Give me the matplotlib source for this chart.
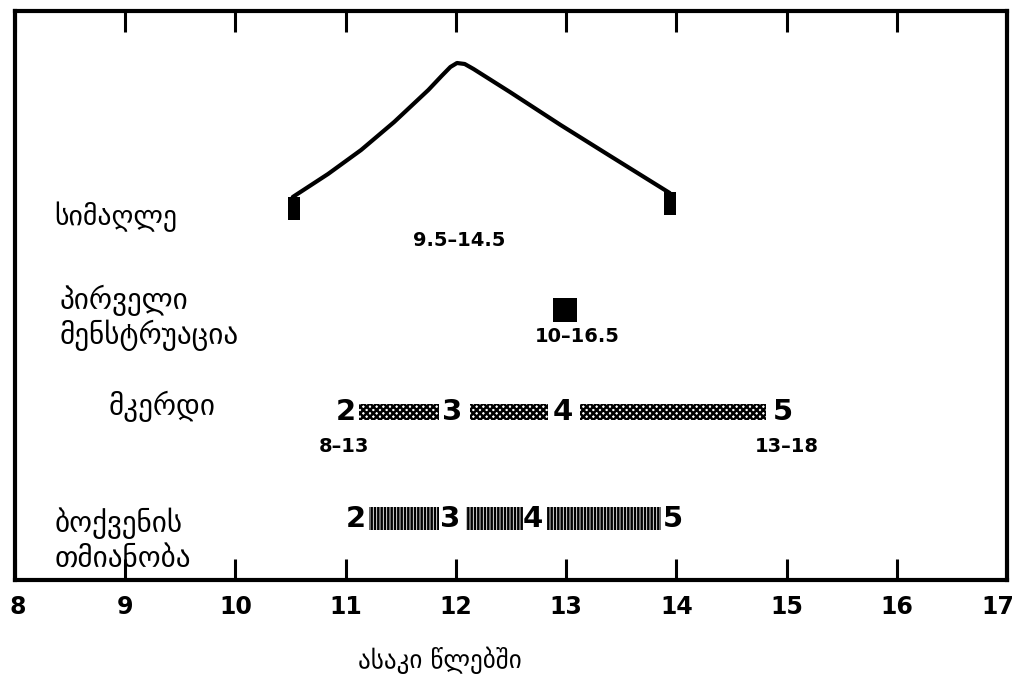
import matplotlib
matplotlib.use("Agg")
import matplotlib.pyplot as plt
import matplotlib.transforms as mtrans

plt.rcParams['font.family'] = ['DejaVu Sans']
plt.rcParams['hatch.linewidth'] = 1.8

# ---- data ----
xticks = [8, 9, 10, 11, 12, 13, 14, 15, 16, 17]
row_labels = ["სიმაღლე", "პირველი\nმენსტრუაცია", "მკერდი", "ბოქვენის\nთმიანობა"]
xlabel = "ასაკი წლებში"

# height spurt curve (age, relative level)
height_x = [10.52, 10.84, 11.14, 11.44, 11.75, 11.87, 11.95, 12.01, 12.08, 12.16, 12.49, 12.95, 13.40, 13.94]
height_y = [383, 406, 430, 458, 490, 504, 513, 517, 516, 511, 488, 455, 424, 387]
height_ends_x = [10.53, 13.94]
height_range = "9.5–14.5"

menarche_age = 12.99
menarche_range = "10–16.5"

breast_stage_labels = ["2", "3", "4", "5"]
breast_stage_ages = [11.0, 11.97, 12.97, 14.97]
breast_bar_start = [11.12, 12.13, 13.13]
breast_bar_end = [11.85, 12.84, 14.81]
breast_range = ["8–13", "13–18"]

pubic_stage_labels = ["2", "3", "4", "5"]
pubic_stage_ages = [11.09, 11.95, 12.70, 13.97]
pubic_bar_start = [11.21, 12.09, 12.83]
pubic_bar_end = [11.85, 12.61, 13.86]

# ---- figure ----
fig = plt.figure(figsize=(10.17, 6.75), dpi=100)
W, H = 1017, 675
ax = fig.add_axes([15 / W, 1 - 580 / H, (1007 - 15) / W, (580 - 11) / H])
ax.set_xlim(8, 17)
ax.set_ylim(0, 569)

for s in ax.spines.values():
    s.set_linewidth(3)
ax.set_xticks(xticks)
ax.set_xticklabels([str(t) for t in xticks], fontsize=17, fontweight='bold')
ax.tick_params(axis='x', direction='in', length=15, width=2.2, top=True, bottom=True, pad=11)
ax.set_yticks([])
labs = ax.get_xticklabels()
labs[0].set_transform(labs[0].get_transform() + mtrans.ScaledTranslation(3 / 100, 0, fig.dpi_scale_trans))
labs[-1].set_transform(labs[-1].get_transform() + mtrans.ScaledTranslation(-9 / 100, 0, fig.dpi_scale_trans))

fig.text(440 / W, 1 - 660 / H, xlabel, ha='center', va='center', fontsize=18)

# height curve
ax.plot(height_x, height_y, color='black', lw=3, solid_capstyle='round', solid_joinstyle='round')
ax.bar(height_ends_x, 23, bottom=[360, 365], width=0.11, color='black')
ax.text(12.03, 340, height_range, ha='center', va='center', fontsize=14, fontweight='bold')

# menarche
ax.bar([menarche_age], 24, bottom=258, width=0.22, color='black')
ax.text(13.1, 244, menarche_range, ha='center', va='center', fontsize=14, fontweight='bold')

# breast
for s, e in zip(breast_bar_start, breast_bar_end):
    ax.bar([(s + e) / 2], 16, bottom=160, width=e - s, color='white', edgecolor='black',
           hatch='xxxxx', lw=0)
for lab, a in zip(breast_stage_labels, breast_stage_ages):
    ax.text(a, 168, lab, ha='center', va='center', fontsize=21, fontweight='bold')
ax.text(10.98, 134, breast_range[0], ha='center', va='center', fontsize=14, fontweight='bold')
ax.text(15.0, 134, breast_range[1], ha='center', va='center', fontsize=14, fontweight='bold')

# pubic hair
for s, e in zip(pubic_bar_start, pubic_bar_end):
    ax.bar([(s + e) / 2], 23, bottom=50, width=e - s, color='white', edgecolor='black',
           hatch='|||||', lw=0)
for lab, a in zip(pubic_stage_labels, pubic_stage_ages):
    ax.text(a, 61, lab, ha='center', va='center', fontsize=21, fontweight='bold')

# row labels
ax.text(8.36, 363, row_labels[0], ha='left', va='center', fontsize=20)
ax.text(8.40, 262, row_labels[1], ha='left', va='center', fontsize=21, linespacing=1.15)
ax.text(8.85, 174, row_labels[2], ha='left', va='center', fontsize=21)
ax.text(8.36, 40, row_labels[3], ha='left', va='center', fontsize=21, linespacing=1.25)

fig.savefig("out.png", dpi=100)
